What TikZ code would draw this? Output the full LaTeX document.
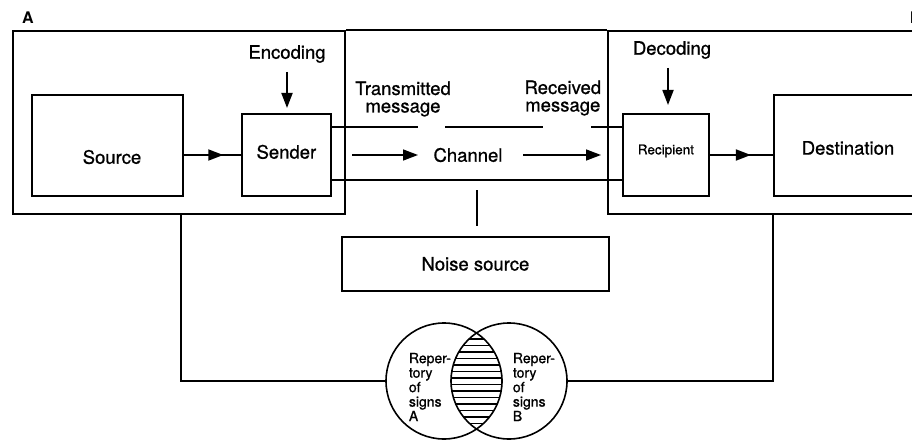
\documentclass[tikz,border=0pt]{standalone}
\usepackage{fontspec}
\setmainfont{TeX Gyre Heros}
\newfontfamily\medfont{TeX Gyre Heros}[FakeBold=0.9]
\usetikzlibrary{arrows.meta,decorations.markings}
\begin{document}
\begin{tikzpicture}[x=1pt,y=-1pt,line width=1.8pt,
  box/.style={draw,rectangle,anchor=north west,inner sep=0pt,line width=1.8pt},
  lbl/.style={font=\medfont\fontsize{18.5}{17.5}\selectfont,align=center,inner sep=0pt},
  small/.style={font=\medfont\fontsize{13.5}{14}\selectfont,inner sep=0pt},
  rep/.style={font=\medfont\fontsize{14}{14.5}\selectfont,align=left,inner sep=0pt,anchor=west},
  tip/.style={-{Triangle[length=15pt,width=11pt]}},
  midarrow/.style={postaction={decorate},decoration={markings,mark=at position #1 with {\arrow{Triangle[length=15pt,width=11pt]}}}},
  thinline/.style={line width=1.5pt}]
\useasboundingbox (0,0) rectangle (912,441);
\clip (0,0) rectangle (912,441);

% outer boxes A and B
\node[box,minimum width=332pt,minimum height=183pt] (boxA) at (12,30) {};
\node[box,minimum width=330pt,minimum height=183pt] (boxB) at (607,30) {};
\draw (boxA.north east) -- (boxB.north west);
\node[font=\bfseries\fontsize{16}{16}\selectfont,inner sep=0pt] (labA) at (28,18) {A};
\node[font=\bfseries\fontsize{16}{16}\selectfont,inner sep=0pt,anchor=west] (labB) at (909,18) {B};

% inner boxes
\node[box,minimum width=151pt,minimum height=101pt] (source) at (31,94) {};
\node[lbl] (sourcet) at (112,157) {Source};
\node[box,minimum width=89pt,minimum height=82pt] (sender) at (241,113) {};
\node[lbl] (sendert) at ([yshift=3pt]sender.center) {Sender};
\node[box,minimum width=86pt,minimum height=82pt] (recip) at (622,113) {};
\node[small] (recipt) at ([yshift=4pt]recip.center) {Recipient};
\node[box,minimum width=160pt,minimum height=101pt] (dest) at (773,94) {};
\node[lbl] (destt) at (848,148) {Destination};
\node[box,minimum width=267pt,minimum height=54pt] (noise) at (341,236) {};
\node[lbl] (noiset) at (noise.center) {Noise source};

% encoding / decoding
\node[lbl] (enc) at (287,54) {Encoding};
\coordinate (encs) at (287,72);
\draw[tip,shorten >=5pt] (encs) -- (encs |- sender.north);
\node[lbl] (dec) at (672,50) {Decoding};
\coordinate (decs) at (668,68);
\draw[tip,shorten >=8pt] (decs) -- (decs |- recip.north);

% source -> sender, recipient -> destination
\coordinate (mid) at (0,155);
\draw[midarrow=0.69] (source.east |- mid) -- (sender.west |- mid);
\draw[midarrow=0.65] (recip.east |- mid) -- (dest.west |- mid);

% channel
\node[lbl] (tm) at (403,99) {Transmitted\\message};
\node[lbl,anchor=east] (rm) at (602,98) {Received\\message};
\node[lbl] (chan) at (468,155) {Channel};
\coordinate (u1) at (330,127); \coordinate (u2) at (418,127);
\coordinate (u3) at (445,127); \coordinate (u4) at (543,127);
\coordinate (u5) at (591,127);
\draw[thinline] (u1) -- (u2);
\draw[thinline] (u3) -- (u4);
\draw[thinline] (u5) -- (u5 -| recip.west);
\coordinate (l1) at (330,180);
\draw[thinline] (l1) -- (l1 -| recip.west);
\coordinate (c1) at (352,155); \coordinate (c2) at (418,155);
\coordinate (c3) at (523,155); \coordinate (c4) at (601,155);
\draw[thinline,tip] (c1) -- (c2);
\draw[thinline,tip] (c3) -- (c4);
\coordinate (n1) at (477,190); \coordinate (n2) at (477,226);
\draw (n1) -- (n2);

% repertories
\node[draw,circle,minimum size=116pt,inner sep=0pt,line width=1.6pt] (circA) at (444,381) {};
\node[draw,circle,minimum size=116pt,inner sep=0pt,line width=1.6pt] (circB) at (509,381) {};
\begin{scope}
  \clip (444,381) circle[radius=58pt];
  \clip (509,381) circle[radius=58pt];
  \foreach \yy in {326,332.5,...,440} {
    \draw[line width=1.5pt] (430,\yy) -- (530,\yy);
  }
\end{scope}
\node[rep] (repA) at (408,387) {Reper-\\tory\\of\\signs\\A};
\node[rep] (repB) at (512,387) {Reper-\\tory\\of\\signs\\B};

% bottom connectors
\coordinate (ba) at (181,213);
\coordinate (bb) at (773,213);
\draw (ba) |- (circA.west);
\draw (bb) |- (circB.east);
\end{tikzpicture}
\end{document}
